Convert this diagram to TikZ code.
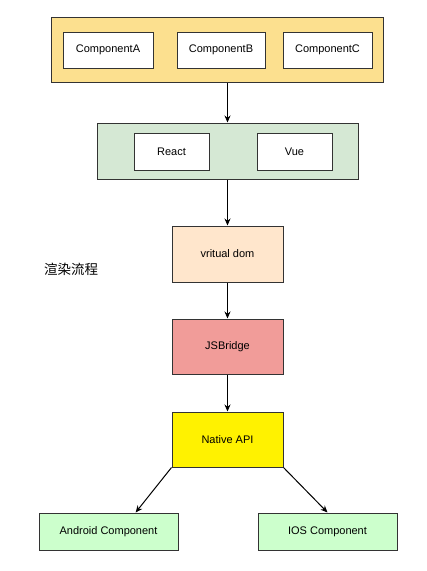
\documentclass[tikz,border=0pt]{standalone}
\usepackage{fontspec}
\setmainfont{Liberation Sans}
\newfontfamily\cjk{Noto Sans CJK SC}
\usetikzlibrary{arrows.meta,positioning}
\definecolor{boxyellow}{HTML}{FCE08F}
\definecolor{boxgreen}{HTML}{D5E8D4}
\definecolor{boxorange}{HTML}{FFE6CC}
\definecolor{boxred}{HTML}{F19C99}
\definecolor{boxlime}{HTML}{CCFFCC}
\definecolor{edgegray}{HTML}{333333}

\begin{document}
\begin{tikzpicture}[x=1pt, y=-1pt, >={Stealth[length=7pt,width=6pt]}, line width=1pt,
  box/.style={draw=edgegray, fill=white, inner sep=0pt, font=\fontsize{11}{13}\selectfont},
  frame/.style={draw=edgegray, inner sep=0pt},
  flow/.style={->, draw=black}]
\useasboundingbox (0,0) rectangle (427,571);
% component layer
\node[frame, fill=boxyellow, minimum width=332pt, minimum height=65pt] (comps) at (217,50) {};
\node[box, minimum width=90pt, minimum height=36pt] (compA) at (108,50) {ComponentA};
\node[box, minimum width=88pt, minimum height=36pt] (compB) at (221,50) {ComponentB};
\node[box, minimum width=89pt, minimum height=36pt] (compC) at (327.5,50) {ComponentC};
% framework layer
\node[frame, fill=boxgreen, minimum width=261pt, minimum height=56pt] (fw) at (227.5,151) {};
\node[box, minimum width=75pt, minimum height=37pt] (react) at (171.5,151.5) {React};
\node[box, minimum width=75pt, minimum height=37pt] (vue) at (294.5,151.5) {Vue};
% pipeline
\node[box, fill=boxorange, minimum width=111pt, minimum height=56pt] (vdom) at (227.5,254) {vritual dom};
\node[box, fill=boxred, minimum width=111pt, minimum height=55pt] (bridge) at (227.5,346.5) {JSBridge};
\node[box, fill=yellow, minimum width=111pt, minimum height=55pt] (native) at (227.5,439.5) {Native API};
\node[box, fill=boxlime, minimum width=139pt, minimum height=37pt] (android) at (108.5,531.5) {Android Component};
\node[box, fill=boxlime, minimum width=139pt, minimum height=37pt] (ios) at (327.5,531.5) {IOS Component};
\node[font=\cjk\fontsize{13.5}{16}\selectfont] (title) at (71,269) {渲染流程};
% arrows
\draw[flow] (comps.south -| fw.north) -- (fw.north);
\draw[flow] (fw.south) -- (vdom.north);
\draw[flow] (vdom.south) -- (bridge.north);
\draw[flow] (bridge.south) -- (native.north);
\draw[flow] (native.south west) -- (android.35);
\draw[flow] (native.south east) -- (ios.north);
\end{tikzpicture}
\end{document}
